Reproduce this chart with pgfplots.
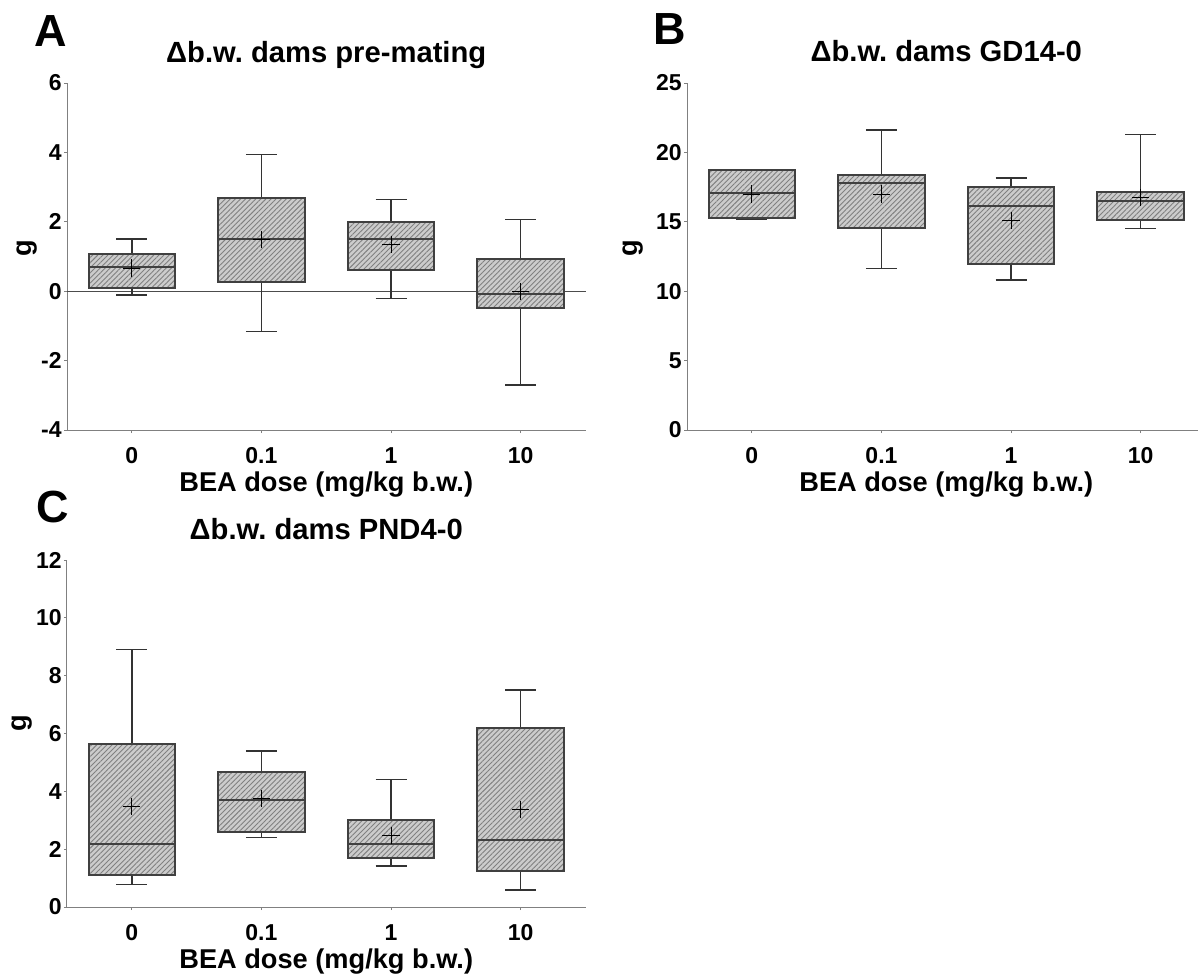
\documentclass[border=0pt]{standalone}
\usepackage{fontspec}
\setmainfont{Liberation Sans}
\usepackage{pgfplots}
\pgfplotsset{compat=1.18}
\usepgfplotslibrary{statistics}
\usetikzlibrary{patterns.meta}
\frenchspacing

\pgfplotsset{
  myaxis/.style={
    scale only axis, width=259.25pt, height=173.5pt,
    axis x line*=bottom, axis y line*=left,
    axis line style={draw=black!50, line width=0.5pt},
    xmin=-0.5, xmax=3.5,
    xtick={0,1,2,3}, xticklabels={0,0.1,1,10},
    tick align=outside, major tick length=1.5pt,
    tick style={draw=black!50, line width=0.5pt},
    /pgf/number format/assume math mode=true,
    ticklabel style={font=\bfseries\fontsize{11.5}{13}\selectfont},
    yticklabel style={inner xsep=1pt},
    xticklabel style={inner ysep=0pt, text height=8.1pt, text depth=0pt, yshift=-6.8pt},
    xlabel={BEA dose (mg/kg b.w.)},
    ylabel={g},
    label style={font=\bfseries\fontsize{13.6}{15}\selectfont},
    xlabel style={at={(axis description cs:0.5,-0.157)}, anchor=center},
    title style={font=\bfseries\fontsize{14.6}{16}\selectfont, at={(axis description cs:0.5,1)}, anchor=base, yshift=4.5pt},
    clip=false,
    boxplot/draw direction=y,
    boxplot/box extend=0.667,
    boxplot/whisker extend=0.24,
    boxplot/every box/.style={draw=black!75, line width=1pt, fill=black!20,
      postaction={pattern={Lines[angle=45,distance=1.8pt,line width=0.45pt]}, pattern color=black!50}},
    boxplot/every median/.style={draw=black!75, line width=1pt},
    boxplot/every whisker/.style={draw=black!80, line width=0.75pt},
    boxplot/every average/.style={/tikz/mark=+, /tikz/mark size=4.3pt, draw=black, line width=0.8pt, solid},
  }
}

\begin{document}
\begin{tikzpicture}
\path[use as bounding box] (0,0) rectangle (599pt,-487pt);

% Panel A
\begin{axis}[myaxis, at={(33.5pt,-215pt)}, anchor=south west,
  ymin=-4, ymax=6, ytick={-4,-2,0,2,4,6},
  title={Δb.w. dams pre-mating},
  ylabel style={at={(axis description cs:-0.077,0.524)}, anchor=center}]
\addplot[black!70, line width=0.5pt, forget plot] coordinates {(-0.5,0) (3.5,0)};
\addplot[boxplot prepared={draw position=0, lower whisker=-0.11, lower quartile=0.09, median=0.70, upper quartile=1.07, upper whisker=1.50, average=0.67}] coordinates {};
\addplot[boxplot prepared={draw position=1, lower whisker=-1.16, lower quartile=0.27, median=1.50, upper quartile=2.70, upper whisker=3.94, average=1.50}] coordinates {};
\addplot[boxplot prepared={draw position=2, lower whisker=-0.21, lower quartile=0.61, median=1.50, upper quartile=2.00, upper whisker=2.65, average=1.35}] coordinates {};
\addplot[boxplot prepared={draw position=3, lower whisker=-2.70, lower quartile=-0.48, median=-0.07, upper quartile=0.94, upper whisker=2.06, average=0.00}] coordinates {};
\node[anchor=base west, font=\bfseries\fontsize{22.5}{25}\selectfont, inner sep=0pt] at (rel axis cs:-0.063,1.104) {A};
\end{axis}

% Panel B
\begin{axis}[myaxis, at={(343.5pt,-215pt)}, anchor=south west,
  ymin=0, ymax=25, ytick={0,5,10,15,20,25},
  title={Δb.w. dams GD14-0},
  ylabel style={at={(axis description cs:-0.104,0.524)}, anchor=center}]
\addplot[boxplot prepared={draw position=0, lower whisker=15.20, lower quartile=15.26, median=17.07, upper quartile=18.70, upper whisker=18.70, average=17.00}] coordinates {};
\addplot[boxplot prepared={draw position=1, lower whisker=11.63, lower quartile=14.57, median=17.79, upper quartile=18.39, upper whisker=21.63, average=17.00}] coordinates {};
\addplot[boxplot prepared={draw position=2, lower whisker=10.82, lower quartile=11.95, median=16.11, upper quartile=17.48, upper whisker=18.15, average=15.10}] coordinates {};
\addplot[boxplot prepared={draw position=3, lower whisker=14.50, lower quartile=15.12, median=16.51, upper quartile=17.14, upper whisker=21.30, average=16.75}] coordinates {};
\node[anchor=base west, font=\bfseries\fontsize{22.5}{25}\selectfont, inner sep=0pt] at (rel axis cs:-0.066,1.11) {B};
\end{axis}

% Panel C
\begin{axis}[myaxis, at={(33.5pt,-453.5pt)}, anchor=south west,
  ymin=0, ymax=12, ytick={0,2,4,6,8,10,12},
  title={Δb.w. dams PND4-0},
  ylabel style={at={(axis description cs:-0.087,0.53)}, anchor=center}]
\addplot[boxplot prepared={draw position=0, lower whisker=0.78, lower quartile=1.10, median=2.19, upper quartile=5.65, upper whisker=8.91, average=3.48}] coordinates {};
\addplot[boxplot prepared={draw position=1, lower whisker=2.40, lower quartile=2.60, median=3.70, upper quartile=4.67, upper whisker=5.40, average=3.74}] coordinates {};
\addplot[boxplot prepared={draw position=2, lower whisker=1.41, lower quartile=1.68, median=2.19, upper quartile=3.02, upper whisker=4.41, average=2.46}] coordinates {};
\addplot[boxplot prepared={draw position=3, lower whisker=0.59, lower quartile=1.26, median=2.31, upper quartile=6.20, upper whisker=7.50, average=3.37}] coordinates {};
\node[anchor=base west, font=\bfseries\fontsize{22.5}{25}\selectfont, inner sep=0pt] at (rel axis cs:-0.060,1.107) {C};
\end{axis}
\end{tikzpicture}
\end{document}
